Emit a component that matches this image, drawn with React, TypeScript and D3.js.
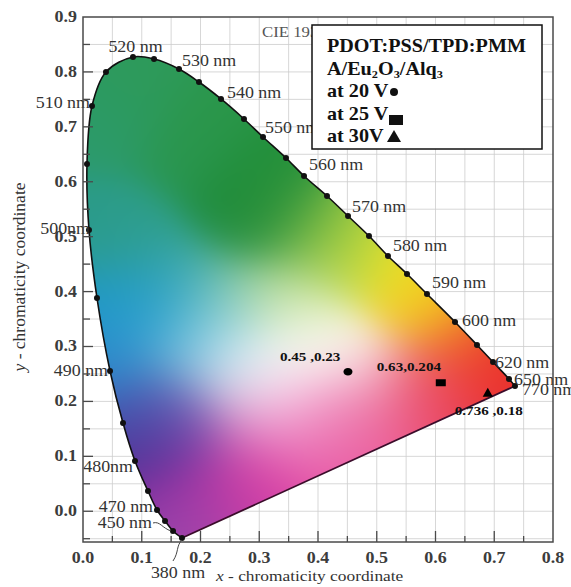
import React, { useMemo } from 'react';
import * as d3 from 'd3';

const W = 571;
const H = 587;
const SX = 1.12; // the scanned figure is a bit wider than tall, text included
const FONT = "'Liberation Serif', 'Times New Roman', serif";

// spectral locus as it sits in the picture, 380 nm -> 520 nm -> 770 nm
const locusX = [0.1685, 0.1532, 0.1396, 0.126, 0.1106, 0.0885, 0.0681, 0.046, 0.0238, 0.0102, 0.0068,
  0.0153, 0.0391, 0.0851, 0.1209, 0.1634, 0.1974, 0.2349, 0.274, 0.3064, 0.3455, 0.3762, 0.4153,
  0.4511, 0.4868, 0.5191, 0.5515, 0.5855, 0.6332, 0.6706, 0.6979, 0.7251, 0.7353];
const locusY = [-0.0487, -0.0359, -0.0177, 0.0023, 0.0369, 0.0916, 0.1607, 0.2554, 0.3883, 0.5122, 0.6323,
  0.738, 0.7999, 0.8272, 0.8235, 0.8053, 0.7816, 0.7507, 0.7143, 0.6815, 0.6433, 0.6105, 0.5741,
  0.5377, 0.5012, 0.4648, 0.432, 0.3956, 0.3447, 0.3028, 0.2718, 0.2409, 0.2281];

// wavelength labels: text and the locus point they belong to
const waveText = ['380 nm', '450 nm', '470 nm', '480nm', '490 nm', '500nm', '510 nm', '520 nm', '530 nm',
  '540 nm', '550 nm', '560 nm', '570 nm', '580 nm', '590 nm', '600 nm', '620 nm', '650 nm', '770 nm'];
const waveIndex = [0, 1, 3, 5, 7, 9, 11, 13, 15, 17, 19, 21, 23, 25, 27, 28, 30, 31, 32];

// measured colour coordinates of the device
const pointX = [0.451, 0.609, 0.689];
const pointY = [0.254, 0.234, 0.214];
const pointText = ['0.45 ,0.23', '0.63,0.204', '0.736 ,0.18'];
const pointShape = ['circle', 'square', 'triangle'];

const xTicks = [0, 0.1, 0.2, 0.3, 0.4, 0.5, 0.6, 0.7, 0.8];
const yTicks = [0, 0.1, 0.2, 0.3, 0.4, 0.5, 0.6, 0.7, 0.8, 0.9];

// colour anchors of the gamut fill
const anchorX = [0.068, 0.182, 0.267, 0.284, 0.296, 0.352, 0.409, 0.466, 0.551, 0.579, 0.636, 0.681, 0.579,
  0.523, 0.409, 0.296, 0.211, 0.165, 0.117, 0.182, 0.267, 0.323, 0.352, 0.437, 0.494, 0.267, 0.211, 0.126,
  0.068, 0.058, 0.097, 0.114, 0.041, 0.097, 0.182, 0.267, 0.352, 0.381, 0.041, 0.12, 0.2, 0.71, 0.62, 0.45,
  0.145, 0.23, 0.315, 0.174, 0.174, 0.259, 0.373, 0.5, 0.58, 0.42];
const anchorY = [0.762, 0.64, 0.549, 0.53, 0.609, 0.518, 0.488, 0.457, 0.427, 0.367, 0.306, 0.244, 0.215,
  0.184, 0.093, 0.033, 0.002, -0.021, 0.112, 0.124, 0.153, 0.184, 0.244, 0.275, 0.244, 0.275, 0.336, 0.367,
  0.397, 0.275, 0.184, 0.142, 0.518, 0.488, 0.427, 0.397, 0.397, 0.336, 0.7, 0.79, 0.72, 0.25, 0.2, 0.16,
  0.026, 0.057, 0.088, 0.179, 0.27, 0.239, 0.148, 0.15, 0.19, 0.18];
const anchorColor = ['#2c9a5c', '#2a9650', '#1e8a3a', '#1c8836', '#22903a', '#4aa040', '#8cc444', '#c8dc3c',
  '#f2e420', '#f4c020', '#f08028', '#ec3028', '#e84858', '#ec6a98', '#e850a0', '#d040a8', '#b040a8', '#9a50b0',
  '#52268e', '#7434a4', '#e27cc0', '#f4c0e0', '#ffffff', '#fcf8f0', '#f8e6ea', '#d8eef4', '#7ac8e0', '#2aa0d0',
  '#1e98c8', '#2a8ccc', '#3a6ac0', '#4a3c98', '#2a9a88', '#30a090', '#3caab0', '#a0d4b0', '#c8e4a0', '#eef6e0',
  '#2c9a6c', '#2e9a5a', '#2a9648', '#e8282c', '#ea4050', '#e8609c',
  '#8a2aa0', '#c030a0', '#e040a0', '#7060b8', '#60b8d8', '#eef4f6', '#f090c8', '#ec5aa0', '#ea4a78', '#f09ccc'];
const SIGMA = 0.058;

const x = d3.scaleLinear().domain([0, 0.8]).range([83, 553]);
const y = d3.scaleLinear().domain([-0.056, 0.9]).range([542, 17]);

const waveOffset: [number, number, string][] = [
  [-4, 40, 'middle'], [-21, -3, 'end'], [-4, 2, 'end'], [-2, 11, 'end'], [-2, 5, 'end'], [1, 4, 'end'],
  [-2, 2, 'end'], [2.5, -5, 'middle'], [3, -3, 'start'], [6, -1, 'start'], [2, -4, 'start'], [5, -6, 'start'],
  [4, -4, 'start'], [5, -5, 'start'], [5, -6, 'start'], [7, 4, 'start'], [2, 6, 'start'], [5, 6, 'start'],
  [7, 9, 'start'],
];
const pointOffset = [[-68, -11], [-64, -12], [-33, 21]];

const T = ({ x: tx, y: ty, anchor = 'start', size = 16, weight = 'normal', fill = '#333', style = 'normal', children }: any) => (
  <text transform={`translate(${tx},${ty}) scale(${SX},1)`} textAnchor={anchor} fontSize={size}
    fontWeight={weight} fill={fill} fontStyle={style} fontFamily={FONT}>{children}</text>
);

export default function App() {
  const [x0, x1] = x.range();
  const [y1, y0] = y.range();
  const pw = Math.round(x1 - x0);
  const ph = Math.round(y1 - y0);

  const fillUrl = useMemo(() => {
    if (typeof document === 'undefined') return '';
    const canvas = document.createElement('canvas');
    canvas.width = pw;
    canvas.height = ph;
    const ctx = canvas.getContext('2d');
    if (!ctx) return '';
    const img = ctx.createImageData(pw, ph);
    const cols = anchorColor.map(c => d3.rgb(c));
    const s2 = 2 * SIGMA * SIGMA;
    for (let j = 0; j < ph; j++) {
      const yd = y.invert(y0 + j + 0.5);
      for (let i = 0; i < pw; i++) {
        const xd = x.invert(x0 + i + 0.5);
        let r = 0, g = 0, b = 0, ws = 1e-12;
        for (let k = 0; k < cols.length; k++) {
          const dx = xd - anchorX[k];
          const dy = yd - anchorY[k];
          const w = Math.exp(-(dx * dx + dy * dy) / s2);
          r += w * cols[k].r; g += w * cols[k].g; b += w * cols[k].b; ws += w;
        }
        const p = (j * pw + i) * 4;
        img.data[p] = r / ws;
        img.data[p + 1] = g / ws;
        img.data[p + 2] = b / ws;
        img.data[p + 3] = 255;
      }
    }
    ctx.putImageData(img, 0, 0);
    return canvas.toDataURL();
  }, []);

  const pts: [number, number][] = locusX.map((v, i) => [x(v), y(locusY[i])]);
  const curve = d3.line().curve(d3.curveCatmullRom.alpha(0.5));
  const locusPath = curve(pts) || '';
  const first = pts[0];
  const last = pts[pts.length - 1];

  const grid = d3.range(0.05, 0.8, 0.05);
  const gridY = d3.range(-0.05, 0.9, 0.05);

  return (
    <svg width={W} height={H} style={{ position: 'absolute', left: 0, top: 0, background: '#fff' }}>
      <defs>
        <clipPath id="locus-clip">
          <path d={locusPath + 'Z'} />
        </clipPath>
      </defs>
      <rect width={W} height={H} fill="#fff" />

      {/* grid */}
      <g stroke="#cdcdcd" strokeWidth={0.8}>
        {grid.map(v => <line key={'gx' + v} x1={x(v)} x2={x(v)} y1={y0} y2={y1} />)}
        {gridY.map(v => <line key={'gy' + v} x1={x0} x2={x1} y1={y(v)} y2={y(v)} />)}
      </g>

      <T x={262} y={37} size={15} fill="#555">CIE 1931</T>

      {/* gamut fill */}
      {fillUrl && <image href={fillUrl} x={x0} y={y0} width={pw} height={ph} clipPath="url(#locus-clip)" preserveAspectRatio="none" />}
      <path d={locusPath} fill="none" stroke="#111" strokeWidth={1.6} />
      <line x1={first[0]} y1={first[1]} x2={last[0]} y2={last[1]} stroke="#3a0c2a" strokeWidth={1.8} />
      {pts.map((p, i) => <circle key={'d' + i} cx={p[0]} cy={p[1]} r={3} fill="#111" />)}

      {/* leaders */}
      <path d={`M${first[0]},${first[1] + 2} C${first[0] - 6},${first[1] + 8} ${first[0] - 3},${first[1] + 14} ${first[0] - 9},${first[1] + 23}`} fill="none" stroke="#444" strokeWidth={1} />
      <path d={`M${pts[1][0] - 20},${pts[1][1] - 8} C${pts[1][0] - 13},${pts[1][1] - 10} ${pts[1][0] - 11},${pts[1][1] - 3} ${pts[1][0] - 2},${pts[1][1]}`} fill="none" stroke="#444" strokeWidth={1} />

      {/* wavelength labels */}
      {waveText.map((t, i) => {
        const p = pts[waveIndex[i]];
        const [dx, dy, anchor] = waveOffset[i];
        return <T key={t} x={p[0] + dx} y={p[1] + dy} anchor={anchor}>{t}</T>;
      })}

      {/* frame and ticks */}
      <rect x={x0} y={y0} width={pw} height={ph} fill="none" stroke="#4a4a4a" strokeWidth={1.5} />
      <g stroke="#4a4a4a" strokeWidth={1.3}>
        {grid.map((v, i) => <line key={'tx' + i} x1={x(v)} x2={x(v)} y1={y1} y2={y1 - (i % 2 ? 11 : 6)} />)}
        {gridY.map((v, i) => <line key={'ty' + i} x1={x0} x2={x0 + (i % 2 ? 10 : 7)} y1={y(v)} y2={y(v)} />)}
      </g>
      {xTicks.map(v => <T key={'xl' + v} x={x(v)} y={563} anchor="middle" weight="bold" fill="#3c3c3c">{v.toFixed(1)}</T>)}
      {yTicks.map(v => <T key={'yl' + v} x={77} y={y(v) + 5} anchor="end" weight="bold" fill="#3c3c3c">{v.toFixed(1)}</T>)}

      {/* axis titles */}
      <text transform={`translate(216,581) scale(${SX},1)`} fontSize={15.5} fontFamily={FONT} fill="#333">
        <tspan fontStyle="italic">x</tspan> - chromaticity coordinate
      </text>
      <text transform="translate(25,277) rotate(-90)" textAnchor="middle" fontSize={17.5} fontFamily={FONT} fill="#333">
        <tspan fontStyle="italic">y</tspan> - chromaticity  coordinate
      </text>

      {/* measured points */}
      {pointX.map((v, i) => {
        const px = x(v), py = y(pointY[i]);
        const shape = pointShape[i];
        return (
          <g key={'p' + i}>
            {shape === 'circle' && <ellipse cx={px} cy={py} rx={4.5} ry={3.8} fill="#000" />}
            {shape === 'square' && <rect x={px - 5} y={py - 3.5} width={10} height={7} fill="#000" />}
            {shape === 'triangle' && <path d={d3.symbol(d3.symbolTriangle, 45)() || ''} transform={`translate(${px},${py})`} fill="#000" />}
            <T x={px + pointOffset[i][0]} y={py + pointOffset[i][1]} size={13.5} weight="bold" fill="#111">{pointText[i]}</T>
          </g>
        );
      })}

      {/* legend */}
      <rect x={312} y={25} width={230} height={124} fill="#fff" stroke="#111" strokeWidth={1.5} />
      <T x={327} y={52} size={18} weight="bold" fill="#111">PDOT:PSS/TPD:PMM</T>
      <text transform={`translate(327,75) scale(${SX},1)`} fontSize={18} fontWeight="bold" fontFamily={FONT} fill="#111">
        A/Eu<tspan fontSize={11} dy={3}>2</tspan><tspan dy={-3}>O</tspan><tspan fontSize={11} dy={3}>3</tspan><tspan dy={-3}>/Alq</tspan><tspan fontSize={11} dy={3}>3</tspan>
      </text>
      <T x={327} y={97} size={18} weight="bold" fill="#111">at 20 V</T>
      <circle cx={394} cy={92} r={4} fill="#111" />
      <T x={327} y={120} size={18} weight="bold" fill="#111">at 25 V</T>
      <rect x={389} y={115} width={14} height={10} fill="#111" />
      <T x={327} y={142} size={18} weight="bold" fill="#111">at 30V</T>
      <path d="M387,142 L401,142 L394,130 Z" fill="#111" />
    </svg>
  );
}
